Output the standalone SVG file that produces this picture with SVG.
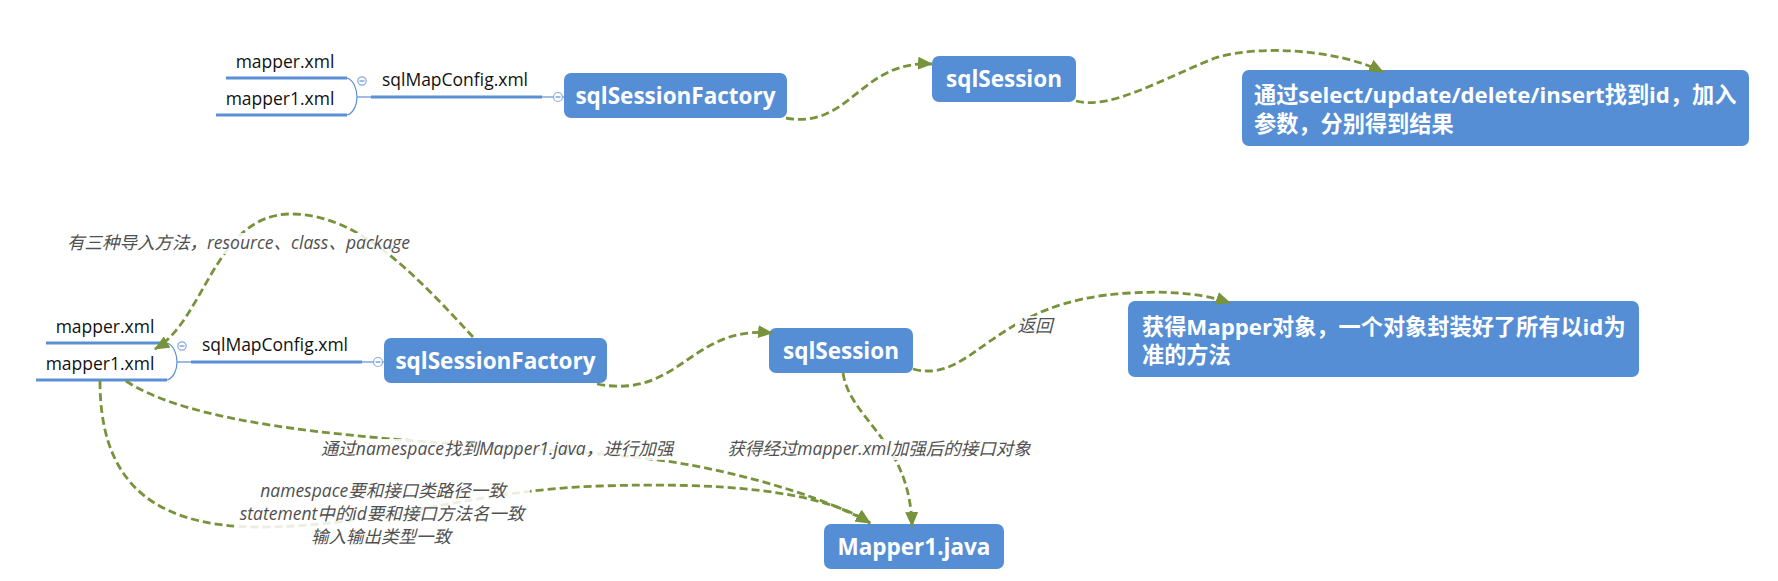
<svg xmlns="http://www.w3.org/2000/svg" width="1778" height="581" viewBox="0 0 1778 581">
<defs>
<style>
.box{fill:#558ED5;}
.bt{font-family:'Open Sans','Noto Sans CJK SC',sans-serif;font-weight:bold;font-size:22.5px;fill:#ffffff;}
.bt2{font-family:'Open Sans','Noto Sans CJK SC',sans-serif;font-weight:bold;font-size:22.2px;fill:#ffffff;}
.nt{font-family:'Open Sans','Noto Sans CJK SC',sans-serif;font-size:17.5px;fill:#111111;text-anchor:middle;}
.lt{font-family:'Open Sans','Noto Sans CJK SC',sans-serif;font-style:italic;font-size:17.5px;fill:#505050;text-anchor:middle;}
.thick{stroke:#5B8FD6;stroke-width:3;fill:none;}
.thin{stroke:#5B8FD6;stroke-width:1.2;fill:none;}
.knob{fill:#ffffff;stroke:#8AAAE0;stroke-width:1.2;}
.conn{fill:none;stroke:#77933C;stroke-width:2.8;stroke-dasharray:8 4;}
.lbg{fill:#ffffff;fill-opacity:0.85;}
</style>
<marker id="arr" viewBox="0 0 15 13" refX="14" refY="6.5" markerWidth="15" markerHeight="13" markerUnits="userSpaceOnUse" orient="auto">
<path d="M0,0 L15,6.5 L0,13 z" fill="#77933C"/>
</marker>
</defs>
<rect width="1778" height="581" fill="#ffffff"/>

<!-- top section -->
<g id="top-mapper">
<text class="nt" x="285" y="68">mapper.xml</text>
<line class="thick" x1="226" y1="78" x2="347" y2="78"/>
</g>
<g id="top-mapper1">
<text class="nt" x="280" y="105">mapper1.xml</text>
<line class="thick" x1="216" y1="115" x2="347" y2="115"/>
</g>
<g id="top-sqlMapConfig">
<path class="thin" d="M347,78 C354,80 357,90 357,97 C357,104 354,113 347,115"/>
<line class="thin" x1="357" y1="97" x2="371" y2="97"/>
<circle class="knob" cx="362" cy="81" r="4.2"/><line class="thin" x1="359.5" y1="81" x2="364.5" y2="81"/>
<text class="nt" x="455" y="86">sqlMapConfig.xml</text>
<line class="thick" x1="371" y1="97" x2="542" y2="97"/>
<line class="thin" x1="542" y1="97" x2="564" y2="97"/>
<circle class="knob" cx="558" cy="97" r="4.5"/><line class="thin" x1="555.5" y1="97" x2="560.5" y2="97"/>
</g>
<g id="top-sqlSessionFactory">
<rect class="box" x="564" y="73" width="223" height="45" rx="7"/>
<text class="bt" x="675.5" y="104" text-anchor="middle">sqlSessionFactory</text>
</g>
<g id="top-sqlSession">
<rect class="box" x="932" y="56" width="144" height="46" rx="7"/>
<text class="bt" x="1004" y="87" text-anchor="middle">sqlSession</text>
</g>
<g id="top-result">
<rect class="box" x="1242" y="70" width="507" height="76" rx="7"/>
<text class="bt2" x="1254" y="103">通过select/update/delete/insert找到id，加入</text>
<text class="bt2" x="1254" y="132">参数，分别得到结果</text>
</g>

<!-- bottom section -->
<g id="bottom-mapper">
<text class="nt" x="105" y="333">mapper.xml</text>
<line class="thick" x1="46" y1="343" x2="167" y2="343"/>
</g>
<g id="bottom-mapper1">
<text class="nt" x="100" y="370">mapper1.xml</text>
<line class="thick" x1="36" y1="380" x2="167" y2="380"/>
</g>
<g id="bottom-sqlMapConfig">
<path class="thin" d="M167,343 C174,345 177,355 177,362 C177,369 174,378 167,380"/>
<line class="thin" x1="177" y1="362" x2="191" y2="362"/>
<circle class="knob" cx="182" cy="346" r="4.2"/><line class="thin" x1="179.5" y1="346" x2="184.5" y2="346"/>
<text class="nt" x="275" y="351">sqlMapConfig.xml</text>
<line class="thick" x1="191" y1="362" x2="362" y2="362"/>
<line class="thin" x1="362" y1="362" x2="384" y2="362"/>
<circle class="knob" cx="378" cy="362" r="4.5"/><line class="thin" x1="375.5" y1="362" x2="380.5" y2="362"/>
</g>
<g id="bottom-sqlSessionFactory">
<rect class="box" x="384" y="338" width="223" height="45" rx="7"/>
<text class="bt" x="495.5" y="369" text-anchor="middle">sqlSessionFactory</text>
</g>
<g id="bottom-sqlSession">
<rect class="box" x="769" y="328" width="144" height="45" rx="7"/>
<text class="bt" x="841" y="359" text-anchor="middle">sqlSession</text>
</g>
<g id="bottom-mapperObject">
<rect class="box" x="1128" y="301" width="511" height="76" rx="7"/>
<text class="bt2" x="1142" y="335">获得Mapper对象，一个对象封装好了所有以id为</text>
<text class="bt2" x="1142" y="363">准的方法</text>
</g>
<g id="bottom-Mapper1java">
<rect class="box" x="824" y="524" width="180" height="45" rx="7"/>
<text class="bt" x="914" y="555" text-anchor="middle">Mapper1.java</text>
</g>

<g id="connectors">
<path class="conn" marker-end="url(#arr)" d="M786,118 C850,130 860,60 932,64"/>
<path class="conn" marker-end="url(#arr)" d="M1076,101 C1110,110 1160,80 1215,58 C1260,44 1340,50 1383,72"/>
<path class="conn" marker-end="url(#arr)" d="M473,337 C420,280 360,213 290,214 C215,215 205,320 155,349"/>
<path class="conn" marker-end="url(#arr)" d="M597,384 C680,400 690,325 772,333"/>
<path class="conn" marker-end="url(#arr)" d="M913,369 C975,385 990,300 1130,293 C1180,290 1210,296 1230,303"/>
<path class="conn" marker-end="url(#arr)" d="M843,373 C850,420 910,440 912,526"/>
<path class="conn" marker-end="url(#arr)" d="M126,381 C230,450 560,440 690,465 C760,478 830,500 870,523"/>
<path class="conn" marker-end="url(#arr)" d="M100,381 C100,470 140,527 260,527 C380,527 470,490 600,486 C720,482 820,490 870,523"/>

<rect class="lbg" x="58" y="233" width="362" height="21"/>
<text class="lt" x="238.5" y="249">有三种导入方法，resource、class、package</text>
<rect class="lbg" x="1015" y="316" width="41" height="21"/>
<text class="lt" x="1035" y="332">返回</text>
<rect class="lbg" x="312" y="439" width="370" height="21"/>
<text class="lt" x="497" y="455">通过namespace找到Mapper1.java，进行加强</text>
<rect class="lbg" x="722" y="439" width="314" height="21"/>
<text class="lt" x="879" y="455">获得经过mapper.xml加强后的接口对象</text>
<rect class="lbg" x="234" y="481" width="296" height="67"/>
<text class="lt" x="383" y="497">namespace要和接口类路径一致</text>
<text class="lt" x="382" y="520">statement中的id要和接口方法名一致</text>
<text class="lt" x="381" y="543">输入输出类型一致</text>
</g>
</svg>
